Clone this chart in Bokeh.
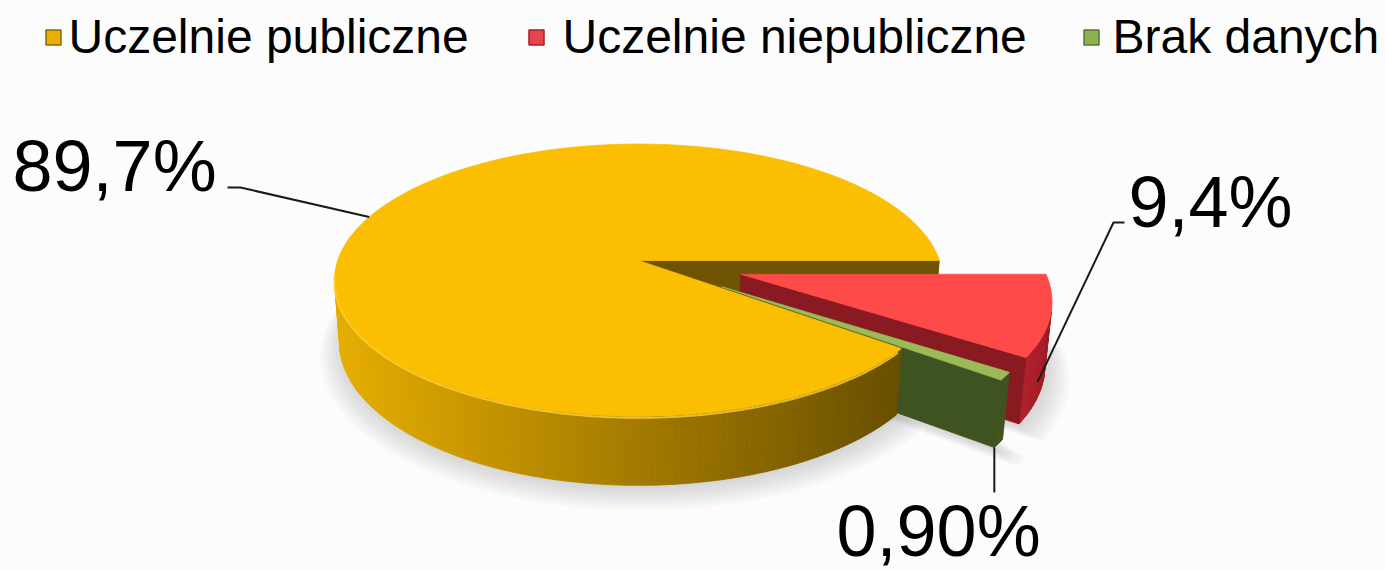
import numpy as np
from bokeh.plotting import figure
from bokeh.models import Range1d
from bokeh.embed import file_html
from bokeh.resources import INLINE
from bokeh.core.properties import value

# ---------------- data ----------------
categories = ["Uczelnie publiczne", "Uczelnie niepubliczne", "Brak danych"]
shares = [89.7, 9.4, 0.9]
labels = ["89,7%", "9,4%", "0,90%"]

# ---------------- style ----------------
top_colors = ["#FBBE00", "#FF4A4A", "#9BBB59"]
side_colors = ["#C09000", "#B3212B", "#3F5320"]
cut_colors = ["#6E5300", "#8A1A22", "#3F5320"]
legend_colors = ["#E8AE00", "#E8444A", "#8DB050"]
legend_edge = ["#8A6A00", "#A02028", "#5A7530"]
explode = [0.0, 0.35, 0.33]
FONT = "Liberation Sans"

# projection (page pixel coords, y down)
CX, CY = 638.0, 260.0
Dd, Ff, Ss, Cc, Hh = 6.19, 1862.0, 0.443, 0.896, 0.233
CAM = np.array([0.0, Dd * Ss, Dd * Cc])


def proj(X, Y, Z):
    X = np.asarray(X, float)
    Z = np.asarray(Z, float)
    Y = np.asarray(Y, float) + 0 * X
    yv = Y * Cc - Z * Ss
    d = Dd - (Z * Cc + Y * Ss)
    return CX + Ff * X / d, -(CY - Ff * yv / d)   # y returned as -page_y


def py(v):
    return -np.asarray(v, float)


# slice angles (clockwise on screen, red starts at 3 o'clock)
total = float(sum(shares))
start = 2 * np.pi - shares[0] / total * 2 * np.pi
angles = []
acc = start
for s in shares:
    a0 = acc
    a1 = acc + s / total * 2 * np.pi
    angles.append((a0, a1))
    acc = a1

W, H = 1385, 570
p = figure(width=W, height=H, x_range=Range1d(0, W), y_range=Range1d(-H, 0),
           output_backend="svg", toolbar_location=None, min_border=0)
p.axis.visible = False
p.grid.visible = False
p.outline_line_color = None
p.background_fill_color = "#FCFCFC"
p.border_fill_color = "#FCFCFC"


def offset(i):
    a0, a1 = angles[i]
    m = 0.5 * (a0 + a1)
    return explode[i] * np.cos(m), explode[i] * np.sin(m)


def lerp(c0, c1, f):
    return "#%02x%02x%02x" % tuple(int(round(c0[k] + (c1[k] - c0[k]) * f)) for k in range(3))


def side_color(i, sx):
    if i == 0:
        f = np.clip((sx - 330) / (900 - 330), 0, 1)
        return lerp((232, 174, 0), (104, 78, 0), f)
    if i == 1:
        f = np.clip((sx - 1000) / 60, 0, 1)
        return lerp((190, 36, 46), (150, 24, 34), f)
    return side_colors[i]


def slice_parts(i):
    a0, a1 = angles[i]
    ox, oz = offset(i)
    n = max(4, int(np.degrees(a1 - a0) / 1.0))
    t = np.linspace(a0, a1, n + 1)
    top = proj(np.r_[ox, ox + np.cos(t)], 0.0, np.r_[oz, oz + np.sin(t)])
    sides = []
    for j in range(n):
        t0, t1 = t[j], t[j + 1]
        tm = 0.5 * (t0 + t1)
        pt = np.array([ox + np.cos(tm), -Hh / 2, oz + np.sin(tm)])
        nrm = np.array([np.cos(tm), 0, np.sin(tm)])
        if np.dot(CAM - pt, nrm) <= 0:
            continue
        xs = [ox + np.cos(t0), ox + np.cos(t1), ox + np.cos(t1), ox + np.cos(t0)]
        ys = [0, 0, -Hh, -Hh]
        zs = [oz + np.sin(t0), oz + np.sin(t1), oz + np.sin(t1), oz + np.sin(t0)]
        qx, qy = proj(xs, ys, zs)
        sides.append((list(qx), list(qy), side_color(i, float(np.mean(qx)))))
    cuts = []
    for a, nrm in ((a0, np.array([np.sin(a0), 0, -np.cos(a0)])),
                   (a1, np.array([-np.sin(a1), 0, np.cos(a1)]))):
        xs = [ox, ox + np.cos(a), ox + np.cos(a), ox]
        ys = [0, 0, -Hh, -Hh]
        zs = [oz, oz + np.sin(a), oz + np.sin(a), oz]
        ctr = np.array([np.mean(xs), -Hh / 2, np.mean(zs)])
        if np.dot(CAM - ctr, nrm) > 0:
            qx, qy = proj(xs, ys, zs)
            cuts.append((list(qx), list(qy), cut_colors[i]))
    return top, sides, cuts


parts = [slice_parts(i) for i in range(3)]

# ---------- soft shadow ----------
sh_x, sh_y = [], []
for k in range(8):
    for i in range(3):
        a0, a1 = angles[i]
        ox, oz = offset(i)
        r = 1.0 + 0.01 * k
        t = np.linspace(a0, a1, 120)
        if i == 0:
            X = ox + r * np.cos(t)
            Z = oz + r * np.sin(t)
        else:
            X = np.r_[ox, ox + r * np.cos(t)]
            Z = np.r_[oz, oz + r * np.sin(t)]
        qx, qy = proj(X, -Hh, Z)
        sh_x.append(list(qx + 2))
        sh_y.append(list(qy - 3 - 1.2 * k))
p.patches(sh_x, sh_y, fill_color="#6a6a6a", fill_alpha=0.035, line_color=None)

# ---------- painter order ----------
order = []
order += parts[0][2]                      # yellow cut faces
for i in (1, 2):                          # exploded slices
    order += parts[i][1]
    order += parts[i][2]
    tx, ty = parts[i][0]
    order.append((list(tx), list(ty), top_colors[i]))
order += parts[0][1]                      # yellow outer side
tx, ty = parts[0][0]
order.append((list(tx), list(ty), top_colors[0]))

p.patches([o[0] for o in order], [o[1] for o in order],
          fill_color=[o[2] for o in order], line_color=[o[2] for o in order], line_width=0.8)

# top rim highlight on yellow near edge
a0, a1 = angles[0]
t = np.linspace(a0 + 0.02, np.pi * 0.97, 150)
rx, ry = proj(np.cos(t), 0.0, np.sin(t))
p.line(rx, ry - 1.5, line_color="#FFD23A", line_width=2, line_alpha=0.8)

# ---------- leader lines ----------
lx, ly = proj(np.cos(np.radians(200)), 0.0, np.sin(np.radians(200)))
p.line([227, 240, float(lx)], [-187, -187, float(ly)], line_color="#1a1a1a", line_width=2)

ox, oz = offset(1)
tr = angles[1][0] + np.radians(25)
rx1, ry1 = proj(ox + np.cos(tr), -Hh * 0.7, oz + np.sin(tr))
p.line([1124, 1113, float(rx1)], [-222, -222, float(ry1)], line_color="#1a1a1a", line_width=2)

ox, oz = offset(2)
tg = angles[2][1]
gx, gy = proj(ox + np.cos(tg), -Hh, oz + np.sin(tg))
p.line([float(gx), float(gx)], [float(gy), -492], line_color="#1a1a1a", line_width=2)

# ---------- data labels (baseline compensated) ----------
p.text(x=[12, 1128, 836], y=list(py([165, 201, 530])), text=labels,
       text_font=value(FONT), text_font_size="72px", text_color="#000000",
       text_baseline="alphabetic", text_align="left")

# ---------- legend ----------
p.scatter(x=[53, 536, 1091], y=list(py([37, 37, 37])), marker="square", size=15,
          fill_color=legend_colors, line_color=legend_edge, line_width=1.5)
p.text(x=[68, 562, 1112], y=list(py([36, 36, 36])), text=categories,
       text_font=value(FONT), text_font_size="48px", text_color="#000000",
       text_baseline="alphabetic", text_align="left")

open("out.html", "w").write(file_html(p, INLINE))
